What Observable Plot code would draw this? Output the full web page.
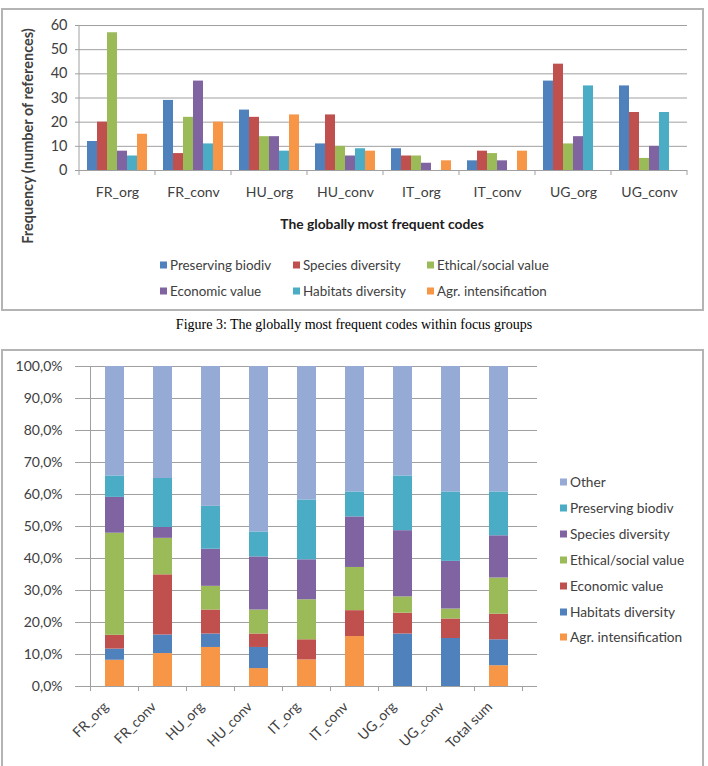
<!DOCTYPE html>
<html><head><meta charset="utf-8">
<script src="https://cdn.jsdelivr.net/npm/d3@7"></script>
<script src="https://cdn.jsdelivr.net/npm/@observablehq/plot@0.6"></script>
<style>
body{margin:0;width:708px;height:766px;position:relative;background:#fff;font-family:Lato,"Open Sans",sans-serif;color:#404040;overflow:hidden}
.box{position:absolute;border:2px solid #b4b4b4;box-sizing:border-box}
.abs{position:absolute;white-space:nowrap}
.leg{position:absolute;font-size:13.4px;line-height:15px;white-space:nowrap;transform:translateY(-50%)}
.sw{display:inline-block;width:7px;height:7px;margin-right:3px;vertical-align:middle;position:relative;top:-1px}
</style></head><body>
<div class="box" style="left:1px;top:8px;width:703px;height:303px"></div>
<div class="box" style="left:1px;top:349px;width:703px;height:430px"></div>
<div id="top" class="abs" style="left:0;top:0"></div>
<div id="bot" class="abs" style="left:0;top:340px"></div>
<div class="abs" style="left:27px;top:136px;transform:translate(-50%,-50%) rotate(-90deg);font-weight:bold;font-size:14.5px;color:#404040">Frequency (number of references)</div>
<div class="abs" style="left:382px;top:223px;transform:translate(-50%,-50%);font-weight:bold;font-size:13.8px;color:#202020">The globally most frequent codes</div>
<div class="abs" style="left:354px;top:325px;transform:translate(-50%,-50%);font-family:'Liberation Serif','Times New Roman',serif;font-size:14px;color:#000">Figure 3: The globally most frequent codes within focus groups</div>
<div id="legTop"></div>
<div id="legBot"></div>
<script>
// ---- Top chart data ----
const groups = ["FR_org","FR_conv","HU_org","HU_conv","IT_org","IT_conv","UG_org","UG_conv"];
const codes = ["Preserving biodiv","Species diversity","Ethical/social value","Economic value","Habitats diversity","Agr. intensification"];
const preserving = [12,29,25,11,9,4,37,35];
const species    = [20,7,22,23,6,8,44,24];
const ethical    = [57,22,14,10,6,7,11,5];
const economic   = [8,37,14,6,3,4,14,10];
const habitats   = [6,11,8,9,0,0,35,24];
const agr        = [15,20,23,8,4,8,0,0];
const topTicks = [0,10,20,30,40,50,60];
const topColors = ["#4F81BD","#C0504D","#9BBB59","#8064A2","#4BACC6","#F79646"];

// ---- Bottom chart data (percent) ----
const cats = ["FR_org","FR_conv","HU_org","HU_conv","IT_org","IT_conv","UG_org","UG_conv","Total sum"];
const stackCodes = ["Agr. intensification","Habitats diversity","Economic value","Ethical/social value","Species diversity","Preserving biodiv","Other"];
const agrPct   = [8.2,10.3,12.2,5.6,8.3,15.6,0,0,6.5];
const habPct   = [3.5,5.8,4.2,6.6,0,0,16.4,15.0,8.1];
const econPct  = [4.3,18.8,7.5,4.2,6.3,8.1,6.5,6.1,8.0];
const ethPct   = [31.9,11.4,7.4,7.5,12.5,13.5,5.1,3.1,11.3];
const specPct  = [11.2,3.4,11.6,16.6,12.5,15.8,20.7,14.9,13.2];
const presPct  = [6.7,15.3,13.4,7.8,18.7,7.8,17.1,21.7,13.7];
const otherPct = [34.2,35.0,43.7,51.7,41.7,39.2,34.2,39.2,39.2];
const pctTicks = [0,10,20,30,40,50,60,70,80,90,100];
const botColors = ["#F79646","#4F81BD","#C0504D","#9BBB59","#8064A2","#4BACC6","#95ABD5"];

const grid = "#a0a0a0";
const font = "Lato, 'Open Sans', sans-serif";

// ---- Top chart ----
const topSeries = [preserving, species, ethical, economic, habitats, agr];
const tidyTop = groups.flatMap((g, i) => codes.map((c, j) => ({group: g, code: c, value: topSeries[j][i]})));

const topChart = Plot.plot({
  width: 708, height: 240,
  marginLeft: 77, marginRight: 20, marginTop: 25, marginBottom: 70,
  style: {fontFamily: font, fontSize: "13.5px", color: "#404040", background: "transparent", overflow: "visible"},
  fx: {domain: groups, padding: 0, label: null},
  x: {domain: codes, paddingInner: 0, paddingOuter: 0.75, axis: null},
  y: {domain: [0, 60], label: null},
  color: {domain: codes, range: topColors},
  marks: [
    Plot.gridY(topTicks, {stroke: grid, strokeOpacity: 1}),
    Plot.barY(tidyTop, {fx: "group", x: "code", y: "value", fill: "code", inset: 0}),
    Plot.ruleY([0], {stroke: grid}),
    Plot.axisY(topTicks, {tickSize: 4, tickPadding: 8, stroke: grid, label: null, fontSize: 14.5}),
    Plot.axisFx({anchor: "bottom", tickSize: 0, tickPadding: 17, label: null, fontSize: 14})
  ]
});
document.getElementById("top").appendChild(topChart);
{
  const fx = topChart.scale("fx"), y = topChart.scale("y");
  const svg = d3.select(topChart);
  const edges = groups.map(g => fx.apply(g)).concat([fx.apply(groups[groups.length - 1]) + fx.bandwidth]);
  const g = svg.append("g").attr("stroke", grid);
  g.selectAll("line.t").data(edges).join("line")
    .attr("x1", d => d).attr("x2", d => d).attr("y1", y.apply(0)).attr("y2", y.apply(0) + 5);
  g.append("line").attr("x1", edges[0]).attr("x2", edges[0]).attr("y1", y.apply(60)).attr("y2", y.apply(0));
}

// ---- Bottom chart ----
const botSeries = [agrPct, habPct, econPct, ethPct, specPct, presPct, otherPct];
const tidyBot = cats.flatMap((c, i) => stackCodes.map((s, j) => ({cat: c, code: s, value: botSeries[j][i]})));
const fmtPct = d => d.toFixed(1).replace(".", ",") + "%";

const botChart = Plot.plot({
  width: 560, height: 426,
  marginLeft: 75, marginRight: 23, marginTop: 26, marginBottom: 80,
  style: {fontFamily: font, fontSize: "13.5px", color: "#404040", background: "transparent", overflow: "visible"},
  x: {domain: cats, padding: 0.61, label: null},
  y: {domain: [0, 100], label: null},
  color: {domain: stackCodes, range: botColors},
  marks: [
    Plot.gridY(pctTicks, {stroke: grid, strokeOpacity: 1}),
    Plot.barY(tidyBot, {x: "cat", y: "value", fill: "code", inset: 0}),
    Plot.ruleY([0], {stroke: grid}),
    Plot.axisY(pctTicks, {tickSize: 0, tickPadding: 13, tickFormat: fmtPct, label: null, fontSize: 14}),
    Plot.axisX({tickSize: 0, tickRotate: -45, tickPadding: 8, dx: -9, dy: 10, label: null, fontSize: 14})
  ]
});
document.getElementById("bot").appendChild(botChart);
{
  const x = botChart.scale("x"), y = botChart.scale("y");
  const svg = d3.select(botChart);
  const step = x.step;
  const first = x.apply(cats[0]) + x.bandwidth / 2 - step / 2;
  const edges = cats.map((c, i) => first + i * step).concat([first + cats.length * step]);
  const g = svg.append("g").attr("stroke", grid);
  g.selectAll("line.t").data(edges).join("line")
    .attr("x1", d => d).attr("x2", d => d).attr("y1", y.apply(0)).attr("y2", y.apply(0) + 5);
  g.append("line").attr("x1", edges[0]).attr("x2", edges[0]).attr("y1", y.apply(100)).attr("y2", y.apply(0));
}

// ---- Legends ----
const legTop = document.getElementById("legTop");
const colX = [160, 293, 427];
const rowY = [265, 291];
codes.forEach((c, i) => {
  const d = document.createElement("div");
  d.className = "leg";
  d.style.left = colX[i % 3] + "px";
  d.style.top = rowY[Math.floor(i / 3)] + "px";
  d.innerHTML = `<span class="sw" style="background:${topColors[i]}"></span>${c}`;
  legTop.appendChild(d);
});
const legBot = document.getElementById("legBot");
stackCodes.slice().reverse().forEach((c, i) => {
  const j = stackCodes.length - 1 - i;
  const d = document.createElement("div");
  d.className = "leg";
  d.style.left = "560px";
  d.style.top = (481 + i * 25.9) + "px";
  d.style.fontSize = "13.7px";
  d.innerHTML = `<span class="sw" style="background:${botColors[j]}"></span>${c}`;
  legBot.appendChild(d);
});
</script>
</body></html>
